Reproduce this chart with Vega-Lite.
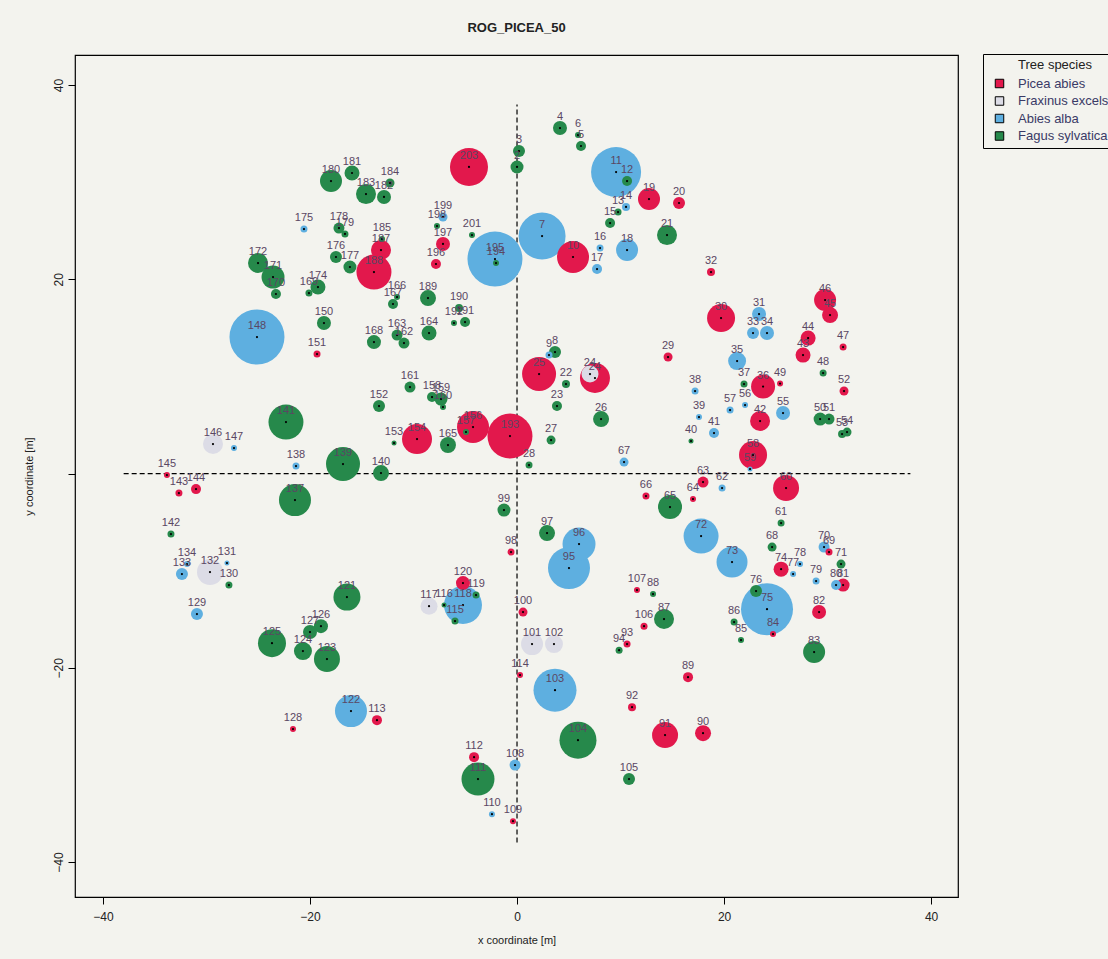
{
"$schema":"https://vega.github.io/schema/vega-lite/v6.json",
"width":883,"height":842,
"autosize":{"type":"none"},
"padding":{"left":75,"top":55,"right":150,"bottom":62},
"background":"#f3f3ee",
"title":{"text":"ROG_PICEA_50","font":"Liberation Sans","fontSize":13,"fontWeight":"bold","color":"#222222","anchor":"middle","offset":19},
"config":{
 "view":{"stroke":"black","strokeWidth":1.2},
 "axis":{"domain":false,"grid":false,"ticks":true,"tickColor":"black","tickSize":7,"tickWidth":1,"labelFont":"Liberation Sans","labelFontSize":12,"labelColor":"#222222","titleFont":"Liberation Sans","titleFontSize":11,"titleFontWeight":"normal","titleColor":"#222222"},
 "axisX":{"labelPadding":7,"titlePadding":12},
 "axisY":{"labelAngle":-90,"labelAlign":"center","labelBaseline":"bottom","labelPadding":3,"titlePadding":18}
},
"datasets":{
"guides":[{"x":-38,"x2":38,"y":0,"y2":0},{"x":0,"x2":0,"y":-38,"y2":38}],
"trees":[
{"id":4,"species":"Fagus sylvatica","x":4.15,"y":35.58,"dbh":14},
{"id":6,"species":"Fagus sylvatica","x":5.89,"y":34.86,"dbh":6},
{"id":5,"species":"Fagus sylvatica","x":6.18,"y":33.73,"dbh":10},
{"id":3,"species":"Fagus sylvatica","x":0.19,"y":33.21,"dbh":12},
{"id":2,"species":"Fagus sylvatica","x":0.0,"y":31.57,"dbh":13},
{"id":203,"species":"Picea abies","x":-4.64,"y":31.57,"dbh":38},
{"id":11,"species":"Abies alba","x":9.57,"y":31.05,"dbh":50},
{"id":12,"species":"Fagus sylvatica","x":10.63,"y":30.12,"dbh":10},
{"id":19,"species":"Picea abies","x":12.75,"y":28.27,"dbh":22},
{"id":20,"species":"Picea abies","x":15.65,"y":27.86,"dbh":12},
{"id":14,"species":"Abies alba","x":10.53,"y":27.45,"dbh":8},
{"id":13,"species":"Fagus sylvatica","x":9.76,"y":26.93,"dbh":7},
{"id":15,"species":"Fagus sylvatica","x":8.99,"y":25.8,"dbh":10},
{"id":7,"species":"Abies alba","x":2.42,"y":24.46,"dbh":47},
{"id":195,"species":"Abies alba","x":-2.13,"y":22.09,"dbh":55},
{"id":194,"species":"Fagus sylvatica","x":-2.03,"y":21.68,"dbh":6},
{"id":10,"species":"Picea abies","x":5.41,"y":22.3,"dbh":32},
{"id":16,"species":"Abies alba","x":8.02,"y":23.22,"dbh":7},
{"id":17,"species":"Abies alba","x":7.73,"y":21.06,"dbh":10},
{"id":18,"species":"Abies alba","x":10.63,"y":23.02,"dbh":22},
{"id":21,"species":"Fagus sylvatica","x":14.49,"y":24.56,"dbh":20},
{"id":201,"species":"Fagus sylvatica","x":-4.35,"y":24.56,"dbh":6},
{"id":199,"species":"Abies alba","x":-7.15,"y":26.42,"dbh":9},
{"id":198,"species":"Fagus sylvatica","x":-7.73,"y":25.49,"dbh":6},
{"id":197,"species":"Picea abies","x":-7.15,"y":23.64,"dbh":14},
{"id":196,"species":"Picea abies","x":-7.83,"y":21.58,"dbh":10},
{"id":184,"species":"Fagus sylvatica","x":-12.27,"y":29.92,"dbh":9},
{"id":180,"species":"Fagus sylvatica","x":-17.97,"y":30.12,"dbh":22},
{"id":181,"species":"Fagus sylvatica","x":-15.94,"y":30.95,"dbh":15},
{"id":183,"species":"Fagus sylvatica","x":-14.59,"y":28.78,"dbh":20},
{"id":182,"species":"Fagus sylvatica","x":-12.85,"y":28.48,"dbh":14},
{"id":175,"species":"Abies alba","x":-20.58,"y":25.18,"dbh":7},
{"id":176,"species":"Fagus sylvatica","x":-17.49,"y":22.3,"dbh":12},
{"id":178,"species":"Fagus sylvatica","x":-17.2,"y":25.28,"dbh":11},
{"id":179,"species":"Fagus sylvatica","x":-16.62,"y":24.67,"dbh":7},
{"id":177,"species":"Fagus sylvatica","x":-16.14,"y":21.27,"dbh":13},
{"id":185,"species":"Fagus sylvatica","x":-13.04,"y":24.15,"dbh":6},
{"id":187,"species":"Picea abies","x":-13.14,"y":23.02,"dbh":20},
{"id":188,"species":"Picea abies","x":-13.82,"y":20.75,"dbh":35},
{"id":172,"species":"Fagus sylvatica","x":-25.02,"y":21.68,"dbh":20},
{"id":171,"species":"Fagus sylvatica","x":-23.57,"y":20.24,"dbh":23},
{"id":170,"species":"Fagus sylvatica","x":-23.29,"y":18.49,"dbh":10},
{"id":174,"species":"Fagus sylvatica","x":-19.23,"y":19.21,"dbh":15},
{"id":169,"species":"Fagus sylvatica","x":-20.1,"y":18.59,"dbh":7},
{"id":150,"species":"Fagus sylvatica","x":-18.65,"y":15.5,"dbh":14},
{"id":148,"species":"Abies alba","x":-25.12,"y":14.06,"dbh":55},
{"id":151,"species":"Picea abies","x":-19.32,"y":12.31,"dbh":7},
{"id":168,"species":"Fagus sylvatica","x":-13.82,"y":13.54,"dbh":14},
{"id":163,"species":"Fagus sylvatica","x":-11.59,"y":14.26,"dbh":11},
{"id":162,"species":"Fagus sylvatica","x":-10.92,"y":13.44,"dbh":11},
{"id":164,"species":"Fagus sylvatica","x":-8.5,"y":14.47,"dbh":15},
{"id":189,"species":"Fagus sylvatica","x":-8.6,"y":18.07,"dbh":16},
{"id":190,"species":"Fagus sylvatica","x":-5.6,"y":17.04,"dbh":8},
{"id":192,"species":"Fagus sylvatica","x":-6.09,"y":15.5,"dbh":6},
{"id":191,"species":"Fagus sylvatica","x":-5.02,"y":15.6,"dbh":10},
{"id":167,"species":"Fagus sylvatica","x":-11.98,"y":17.46,"dbh":10},
{"id":166,"species":"Fagus sylvatica","x":-11.59,"y":18.18,"dbh":6},
{"id":161,"species":"Fagus sylvatica","x":-10.34,"y":8.91,"dbh":11},
{"id":152,"species":"Fagus sylvatica","x":-13.33,"y":6.95,"dbh":12},
{"id":141,"species":"Fagus sylvatica","x":-22.32,"y":5.3,"dbh":35},
{"id":146,"species":"Fraxinus excelsior","x":-29.37,"y":3.04,"dbh":20},
{"id":147,"species":"Abies alba","x":-27.34,"y":2.63,"dbh":6},
{"id":145,"species":"Picea abies","x":-33.82,"y":-0.15,"dbh":6},
{"id":143,"species":"Picea abies","x":-32.66,"y":-2.01,"dbh":7},
{"id":144,"species":"Picea abies","x":-31.01,"y":-1.6,"dbh":10},
{"id":142,"species":"Fagus sylvatica","x":-33.43,"y":-6.23,"dbh":7},
{"id":138,"species":"Abies alba","x":-21.35,"y":0.77,"dbh":7},
{"id":139,"species":"Fagus sylvatica","x":-16.81,"y":0.98,"dbh":34},
{"id":140,"species":"Fagus sylvatica","x":-13.14,"y":0.05,"dbh":16},
{"id":137,"species":"Fagus sylvatica","x":-21.45,"y":-2.73,"dbh":32},
{"id":153,"species":"Fagus sylvatica","x":-11.88,"y":3.14,"dbh":5},
{"id":154,"species":"Picea abies","x":-9.66,"y":3.55,"dbh":30},
{"id":158,"species":"Fagus sylvatica","x":-8.21,"y":7.88,"dbh":10},
{"id":159,"species":"Fagus sylvatica","x":-7.34,"y":7.67,"dbh":13},
{"id":160,"species":"Fagus sylvatica","x":-7.15,"y":6.85,"dbh":6},
{"id":156,"species":"Picea abies","x":-4.25,"y":4.79,"dbh":32},
{"id":157,"species":"Fagus sylvatica","x":-4.93,"y":4.27,"dbh":6},
{"id":165,"species":"Fagus sylvatica","x":-6.67,"y":2.94,"dbh":16},
{"id":193,"species":"Picea abies","x":-0.68,"y":3.86,"dbh":45},
{"id":28,"species":"Fagus sylvatica","x":1.16,"y":0.88,"dbh":7},
{"id":27,"species":"Fagus sylvatica","x":3.29,"y":3.45,"dbh":9},
{"id":23,"species":"Fagus sylvatica","x":3.86,"y":6.95,"dbh":10},
{"id":22,"species":"Fagus sylvatica","x":4.73,"y":9.22,"dbh":8},
{"id":8,"species":"Fagus sylvatica","x":3.67,"y":12.51,"dbh":12},
{"id":9,"species":"Abies alba","x":3.09,"y":12.2,"dbh":7},
{"id":25,"species":"Picea abies","x":2.13,"y":10.25,"dbh":34},
{"id":24,"species":"Fraxinus excelsior","x":7.05,"y":10.25,"dbh":17},
{"id":24,"species":"Picea abies","x":7.53,"y":9.84,"dbh":30},
{"id":26,"species":"Fagus sylvatica","x":8.12,"y":5.61,"dbh":16},
{"id":29,"species":"Picea abies","x":14.59,"y":12.0,"dbh":9},
{"id":67,"species":"Abies alba","x":10.34,"y":1.18,"dbh":9},
{"id":66,"species":"Picea abies","x":12.46,"y":-2.32,"dbh":7},
{"id":65,"species":"Fagus sylvatica","x":14.78,"y":-3.45,"dbh":24},
{"id":99,"species":"Fagus sylvatica","x":-1.26,"y":-3.76,"dbh":13},
{"id":97,"species":"Fagus sylvatica","x":2.9,"y":-6.13,"dbh":16},
{"id":32,"species":"Picea abies","x":18.74,"y":20.75,"dbh":8},
{"id":30,"species":"Picea abies","x":19.71,"y":16.01,"dbh":28},
{"id":31,"species":"Abies alba","x":23.38,"y":16.43,"dbh":14},
{"id":33,"species":"Abies alba","x":22.8,"y":14.47,"dbh":12},
{"id":34,"species":"Abies alba","x":24.15,"y":14.47,"dbh":14},
{"id":35,"species":"Abies alba","x":21.26,"y":11.59,"dbh":18},
{"id":37,"species":"Fagus sylvatica","x":21.93,"y":9.22,"dbh":7},
{"id":38,"species":"Abies alba","x":17.2,"y":8.5,"dbh":7},
{"id":39,"species":"Abies alba","x":17.58,"y":5.82,"dbh":6},
{"id":40,"species":"Fagus sylvatica","x":16.81,"y":3.35,"dbh":5},
{"id":41,"species":"Abies alba","x":19.03,"y":4.17,"dbh":10},
{"id":57,"species":"Abies alba","x":20.58,"y":6.54,"dbh":7},
{"id":56,"species":"Abies alba","x":22.03,"y":7.05,"dbh":6},
{"id":36,"species":"Picea abies","x":23.77,"y":8.96,"dbh":24},
{"id":49,"species":"Picea abies","x":25.41,"y":9.27,"dbh":6},
{"id":42,"species":"Picea abies","x":23.48,"y":5.41,"dbh":20},
{"id":55,"species":"Abies alba","x":25.7,"y":6.23,"dbh":14},
{"id":46,"species":"Picea abies","x":29.76,"y":17.87,"dbh":22},
{"id":45,"species":"Picea abies","x":30.24,"y":16.32,"dbh":16},
{"id":44,"species":"Picea abies","x":28.12,"y":13.95,"dbh":15},
{"id":43,"species":"Picea abies","x":27.63,"y":12.2,"dbh":15},
{"id":47,"species":"Picea abies","x":31.5,"y":13.03,"dbh":7},
{"id":48,"species":"Fagus sylvatica","x":29.57,"y":10.35,"dbh":7},
{"id":52,"species":"Picea abies","x":31.59,"y":8.5,"dbh":9},
{"id":50,"species":"Fagus sylvatica","x":29.28,"y":5.61,"dbh":13},
{"id":51,"species":"Fagus sylvatica","x":30.14,"y":5.61,"dbh":11},
{"id":53,"species":"Fagus sylvatica","x":31.4,"y":4.07,"dbh":8},
{"id":54,"species":"Fagus sylvatica","x":31.88,"y":4.27,"dbh":9},
{"id":58,"species":"Picea abies","x":22.8,"y":1.91,"dbh":28},
{"id":59,"species":"Abies alba","x":22.51,"y":0.46,"dbh":5},
{"id":63,"species":"Picea abies","x":17.97,"y":-0.88,"dbh":11},
{"id":62,"species":"Abies alba","x":19.81,"y":-1.49,"dbh":7},
{"id":64,"species":"Picea abies","x":17.0,"y":-2.63,"dbh":6},
{"id":60,"species":"Picea abies","x":25.99,"y":-1.49,"dbh":26},
{"id":61,"species":"Fagus sylvatica","x":25.51,"y":-5.1,"dbh":7},
{"id":72,"species":"Abies alba","x":17.78,"y":-6.44,"dbh":35},
{"id":73,"species":"Abies alba","x":20.77,"y":-9.11,"dbh":31},
{"id":68,"species":"Fagus sylvatica","x":24.64,"y":-7.57,"dbh":9},
{"id":70,"species":"Abies alba","x":29.66,"y":-7.57,"dbh":11},
{"id":69,"species":"Picea abies","x":30.14,"y":-8.08,"dbh":7},
{"id":71,"species":"Fagus sylvatica","x":31.3,"y":-9.32,"dbh":9},
{"id":74,"species":"Picea abies","x":25.51,"y":-9.84,"dbh":15},
{"id":78,"species":"Abies alba","x":27.34,"y":-9.32,"dbh":6},
{"id":77,"species":"Abies alba","x":26.67,"y":-10.35,"dbh":6},
{"id":79,"species":"Abies alba","x":28.89,"y":-11.07,"dbh":7},
{"id":80,"species":"Abies alba","x":30.82,"y":-11.48,"dbh":10},
{"id":81,"species":"Picea abies","x":31.5,"y":-11.48,"dbh":13},
{"id":76,"species":"Fagus sylvatica","x":23.09,"y":-12.1,"dbh":12},
{"id":75,"species":"Abies alba","x":24.15,"y":-13.96,"dbh":52},
{"id":82,"species":"Picea abies","x":29.18,"y":-14.26,"dbh":14},
{"id":86,"species":"Fagus sylvatica","x":20.97,"y":-15.29,"dbh":7},
{"id":85,"species":"Fagus sylvatica","x":21.64,"y":-17.14,"dbh":6},
{"id":84,"species":"Picea abies","x":24.73,"y":-16.53,"dbh":6},
{"id":83,"species":"Fagus sylvatica","x":28.7,"y":-18.38,"dbh":22},
{"id":107,"species":"Picea abies","x":11.59,"y":-12.0,"dbh":6},
{"id":88,"species":"Fagus sylvatica","x":13.14,"y":-12.41,"dbh":6},
{"id":87,"species":"Fagus sylvatica","x":14.2,"y":-14.98,"dbh":20},
{"id":106,"species":"Picea abies","x":12.27,"y":-15.71,"dbh":7},
{"id":93,"species":"Picea abies","x":10.63,"y":-17.56,"dbh":7},
{"id":94,"species":"Fagus sylvatica","x":9.86,"y":-18.18,"dbh":7},
{"id":98,"species":"Picea abies","x":-0.58,"y":-8.08,"dbh":7},
{"id":96,"species":"Abies alba","x":5.99,"y":-7.26,"dbh":33},
{"id":95,"species":"Abies alba","x":5.02,"y":-9.73,"dbh":42},
{"id":120,"species":"Picea abies","x":-5.22,"y":-11.28,"dbh":14},
{"id":119,"species":"Fagus sylvatica","x":-3.96,"y":-12.51,"dbh":7},
{"id":117,"species":"Fraxinus excelsior","x":-8.5,"y":-13.65,"dbh":17},
{"id":118,"species":"Abies alba","x":-5.22,"y":-13.54,"dbh":38},
{"id":116,"species":"Fagus sylvatica","x":-7.05,"y":-13.54,"dbh":5},
{"id":115,"species":"Fagus sylvatica","x":-5.99,"y":-15.19,"dbh":7},
{"id":100,"species":"Picea abies","x":0.58,"y":-14.26,"dbh":9},
{"id":101,"species":"Fraxinus excelsior","x":1.45,"y":-17.56,"dbh":22},
{"id":102,"species":"Fraxinus excelsior","x":3.57,"y":-17.56,"dbh":18},
{"id":114,"species":"Picea abies","x":0.29,"y":-20.75,"dbh":6},
{"id":103,"species":"Abies alba","x":3.67,"y":-22.3,"dbh":43},
{"id":89,"species":"Picea abies","x":16.52,"y":-20.96,"dbh":10},
{"id":92,"species":"Picea abies","x":11.11,"y":-24.05,"dbh":8},
{"id":91,"species":"Picea abies","x":14.3,"y":-26.93,"dbh":26},
{"id":90,"species":"Picea abies","x":17.97,"y":-26.73,"dbh":16},
{"id":104,"species":"Fagus sylvatica","x":5.89,"y":-27.45,"dbh":37},
{"id":122,"species":"Abies alba","x":-16.04,"y":-24.46,"dbh":32},
{"id":113,"species":"Picea abies","x":-13.53,"y":-25.39,"dbh":10},
{"id":112,"species":"Picea abies","x":-4.15,"y":-29.2,"dbh":10},
{"id":111,"species":"Fagus sylvatica","x":-3.77,"y":-31.46,"dbh":33},
{"id":108,"species":"Abies alba","x":-0.19,"y":-30.02,"dbh":11},
{"id":110,"species":"Abies alba","x":-2.42,"y":-35.07,"dbh":6},
{"id":109,"species":"Picea abies","x":-0.39,"y":-35.79,"dbh":6},
{"id":105,"species":"Fagus sylvatica","x":10.82,"y":-31.46,"dbh":12},
{"id":133,"species":"Abies alba","x":-32.37,"y":-10.35,"dbh":12},
{"id":134,"species":"Abies alba","x":-31.88,"y":-9.32,"dbh":6},
{"id":132,"species":"Fraxinus excelsior","x":-29.66,"y":-10.14,"dbh":26},
{"id":131,"species":"Abies alba","x":-28.02,"y":-9.22,"dbh":5},
{"id":130,"species":"Fagus sylvatica","x":-27.83,"y":-11.48,"dbh":7},
{"id":129,"species":"Abies alba","x":-30.92,"y":-14.47,"dbh":12},
{"id":121,"species":"Fagus sylvatica","x":-16.43,"y":-12.72,"dbh":27},
{"id":126,"species":"Fagus sylvatica","x":-18.94,"y":-15.71,"dbh":14},
{"id":127,"species":"Fagus sylvatica","x":-20.0,"y":-16.32,"dbh":14},
{"id":125,"species":"Fagus sylvatica","x":-23.67,"y":-17.46,"dbh":28},
{"id":124,"species":"Fagus sylvatica","x":-20.68,"y":-18.28,"dbh":18},
{"id":123,"species":"Fagus sylvatica","x":-18.36,"y":-19.1,"dbh":26},
{"id":128,"species":"Picea abies","x":-21.64,"y":-26.31,"dbh":6}
]},
"layer":[
{"data":{"name":"guides"},
 "mark":{"type":"rule","strokeDash":[5,3],"color":"black","strokeWidth":1.2},
 "encoding":{
  "x":{"field":"x","type":"quantitative","scale":{"domain":[-42.7,42.6],"nice":false,"zero":false},"axis":{"title":"x coordinate [m]","values":[-40,-20,0,20,40]}},
  "x2":{"field":"x2"},
  "y":{"field":"y","type":"quantitative","scale":{"domain":[-43.6,43.1],"nice":false,"zero":false},"axis":{"title":"y coordinate [m]","values":[-40,-20,0,20,40],"labelExpr":"datum.value == 0 ? '' : datum.label"}},
  "y2":{"field":"y2"}}},
{"data":{"name":"trees"},
 "mark":{"type":"circle","opacity":1,"strokeWidth":0},
 "encoding":{
  "x":{"field":"x","type":"quantitative","scale":{"domain":[-42.7,42.6],"nice":false,"zero":false},"axis":{"title":"x coordinate [m]","values":[-40,-20,0,20,40]}},
  "y":{"field":"y","type":"quantitative","scale":{"domain":[-43.6,43.1],"nice":false,"zero":false},"axis":{"title":"y coordinate [m]","values":[-40,-20,0,20,40],"labelExpr":"datum.value == 0 ? '' : datum.label"}},
  "size":{"field":"dbh","type":"quantitative","scale":{"type":"pow","exponent":2,"domain":[0,60],"range":[0,3600]},"legend":null},
  "order":{"field":"dbh","sort":"descending"},
  "color":{"field":"species","type":"nominal",
   "scale":{"domain":["Picea abies","Fraxinus excelsior","Abies alba","Fagus sylvatica"],"range":["#e2184c","#dcdce6","#5eafe0","#26894b"]},
   "legend":{"orient":"none","legendX":908,"legendY":-1,"title":"Tree species","titleFont":"Liberation Sans","titleFontSize":13,"titleFontWeight":"normal","titleColor":"#222222","titleAnchor":"middle","titlePadding":5,"labelFont":"Liberation Sans","labelFontSize":13,"labelColor":"#3a3a66","labelOffset":12,"symbolType":"square","symbolSize":72,"symbolOffset":5,"symbolStrokeColor":"black","symbolStrokeWidth":1,"symbolOpacity":1,"rowPadding":3.5,"padding":5,"strokeColor":"black","fillColor":"#f3f3ee"}}}},
{"data":{"name":"trees"},
 "mark":{"type":"circle","size":5,"color":"black","opacity":1},
 "encoding":{
  "x":{"field":"x","type":"quantitative","scale":{"domain":[-42.7,42.6],"nice":false,"zero":false},"axis":{"title":"x coordinate [m]","values":[-40,-20,0,20,40]}},
  "y":{"field":"y","type":"quantitative","scale":{"domain":[-43.6,43.1],"nice":false,"zero":false},"axis":{"title":"y coordinate [m]","values":[-40,-20,0,20,40],"labelExpr":"datum.value == 0 ? '' : datum.label"}}}},
{"data":{"name":"trees"},
 "mark":{"type":"text","dy":-8,"baseline":"alphabetic","align":"center","font":"Liberation Sans","fontSize":11,"fill":"#5a4763"},
 "encoding":{
  "x":{"field":"x","type":"quantitative","scale":{"domain":[-42.7,42.6],"nice":false,"zero":false},"axis":{"title":"x coordinate [m]","values":[-40,-20,0,20,40]}},
  "y":{"field":"y","type":"quantitative","scale":{"domain":[-43.6,43.1],"nice":false,"zero":false},"axis":{"title":"y coordinate [m]","values":[-40,-20,0,20,40],"labelExpr":"datum.value == 0 ? '' : datum.label"}},
  "text":{"field":"id","type":"nominal"}}}
]
}
